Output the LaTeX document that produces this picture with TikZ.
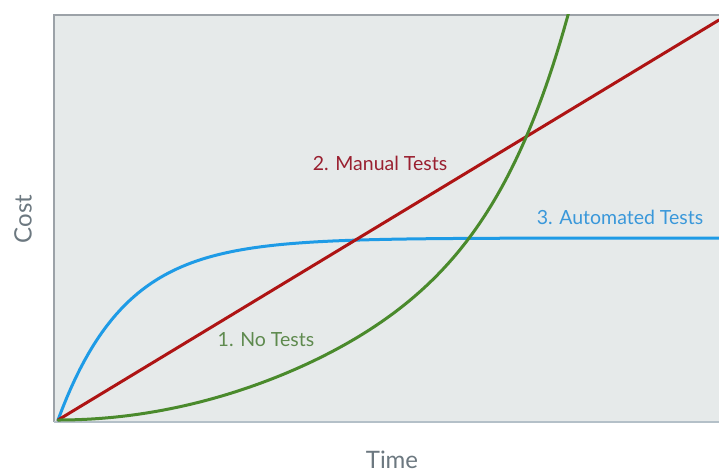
\documentclass[tikz,border=0pt]{standalone}
\usepackage{fontspec}
\setmainfont{Lato}
\definecolor{plotbg}{HTML}{E6EAEA}
\definecolor{frameL}{HTML}{9CA2A8}
\definecolor{frameB}{HTML}{B4C0C8}
\definecolor{redline}{HTML}{AE1414}
\definecolor{redtext}{HTML}{9A2030}
\definecolor{blueline}{HTML}{1E9BE6}
\definecolor{bluetext}{HTML}{3A98DA}
\definecolor{greenline}{HTML}{4A8A2C}
\definecolor{greentext}{HTML}{5E8A4E}
\definecolor{axistext}{HTML}{6C7880}
\tikzset{
  curve/.style={line width=3pt, line cap=round, line join=round},
  lbl/.style={font=\fontsize{19.5}{22}\selectfont, inner sep=0pt},
  axlbl/.style={font=\fontsize{24}{26}\selectfont, inner sep=0pt, text=axistext}
}
\begin{document}
\begin{tikzpicture}[x=1pt,y=-1pt]
\useasboundingbox (0,0) rectangle (719,473);
% plot area
\fill[plotbg] (54,15) rectangle (719,422);
\draw[frameL, line width=1.5pt] (54,422) -- (54,15) -- (719,15);
\draw[frameB, line width=1.5pt] (54,422) -- (719,422);
\coordinate (origin) at (58,420);
\coordinate (redend) at (719,20);
\begin{scope}
\clip (54,15) rectangle (719,422);
% blue: automated tests
\draw[curve, blueline] plot[domain=58:719, samples=150, variable=\x] ({\x},{420-182*(1-exp(-(\x-58)/67))});
% red: manual tests
\draw[curve, redline] (origin) -- (redend);
% green: no tests
\draw[curve, greenline] plot[domain=0:1.02, samples=150, variable=\u] ({58+510*\u},{420-405*(0.575*\u*\u+0.425*(\u^8))});
\end{scope}
% labels
\node[lbl, text=redtext] (manual) at (380,163) {2. Manual Tests};
\node[lbl, text=bluetext] (auto) at (620,217) {3. Automated Tests};
\node[lbl, text=greentext] (notests) at (266,340) {1. No Tests};
\node[axlbl, rotate=90] (cost) at (23,219) {Cost};
\node[axlbl] (time) at (392,460) {Time};
\end{tikzpicture}
\end{document}
